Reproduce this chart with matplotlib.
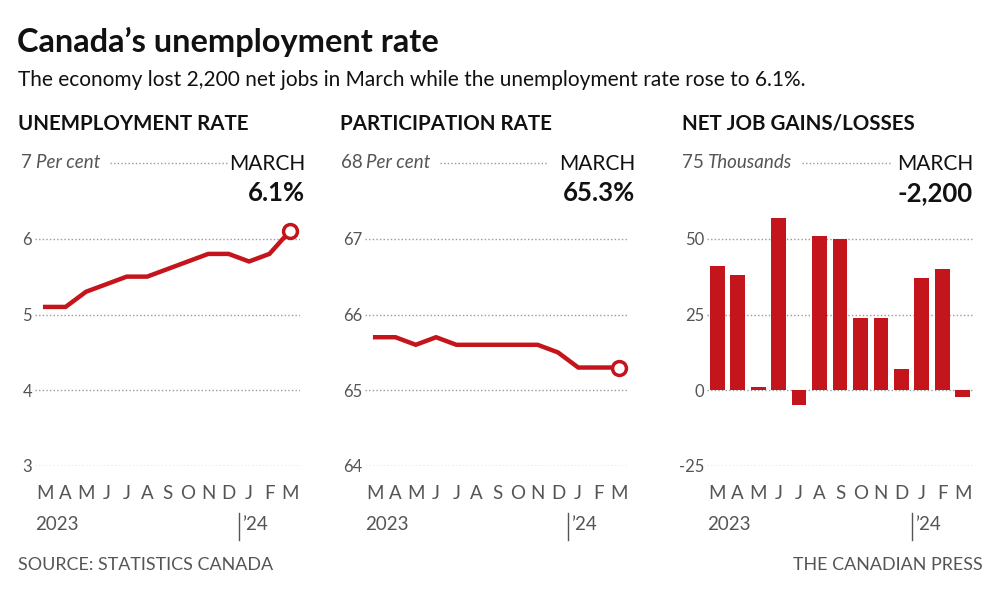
import matplotlib
matplotlib.use("Agg")
import matplotlib.pyplot as plt

plt.rcParams['font.family'] = ['Lato', 'DejaVu Sans']

# ---- data ----
months = ['M', 'A', 'M', 'J', 'J', 'A', 'S', 'O', 'N', 'D', 'J', 'F', 'M']
unemployment = [5.1, 5.1, 5.3, 5.4, 5.5, 5.5, 5.6, 5.7, 5.8, 5.8, 5.7, 5.8, 6.1]
participation = [65.7, 65.7, 65.6, 65.7, 65.6, 65.6, 65.6, 65.6, 65.6, 65.5, 65.3, 65.3, 65.3]
job_change = [41, 38, 1, 57, -5, 51, 50, 24, 24, 7, 37, 40, -2.2]   # thousands

unemp_ticks = [3, 4, 5, 6, 7]
part_ticks = [64, 65, 66, 67, 68]
jobs_ticks = [-25, 0, 25, 50, 75]

RED = '#c4151c'
GRAY = '#555555'
GRID = '#9a9a9a'
BLACK = '#111111'

W, H = 1000, 596
fig = plt.figure(figsize=(10, 5.96), dpi=100)


def fx(px):
    return px / W


def fy(py):
    return 1 - py / H


fig.text(fx(17), fy(42), "Canada\u2019s unemployment rate", fontsize=23.4, fontweight='bold',
         color=BLACK, va='center', ha='left')
fig.text(fx(18), fy(80), "The economy lost 2,200 net jobs in March while the unemployment rate rose to 6.1%.",
         fontsize=15, color=BLACK, va='center', ha='left')

panels = [
    dict(title="UNEMPLOYMENT RATE", left=35, right=300, ticks=unemp_ticks, unit="Per cent",
         data=unemployment, kind='line', value="6.1%", dot=(0.283, 0.724), mx=305, title_x=18),
    dict(title="PARTICIPATION RATE", left=365, right=629, ticks=part_ticks, unit="Per cent",
         data=participation, kind='line', value="65.3%", dot=(0.284, 0.693), mx=635, title_x=340),
    dict(title="NET JOB GAINS/LOSSES", left=707, right=973, ticks=jobs_ticks, unit="Thousands",
         data=job_change, kind='bar', value="-2,200", dot=(0.357, 0.695), mx=973, title_x=682),
]

top, bottom = 163, 466
x = list(range(len(months)))

for p in panels:
    ax = fig.add_axes([fx(p['left']), fy(bottom), fx(p['right'] - p['left']), (bottom - top) / H])
    ticks = p['ticks']
    ax.set_ylim(ticks[0], ticks[-1])
    ax.set_xlim(-0.5, 12.5)
    for sp in ax.spines.values():
        sp.set_visible(False)
    ax.set_facecolor('none')
    for t in ticks[:-1]:
        ax.axhline(t, color=GRID, lw=1, ls=(0, (1, 1.6)), zorder=0)
    ax.axhline(ticks[-1], xmin=p['dot'][0], xmax=p['dot'][1], color=GRID, lw=1,
               ls=(0, (1, 1.6)), zorder=0, clip_on=False)
    ax.set_yticks(ticks[:-1])
    ax.set_yticklabels([str(t) for t in ticks[:-1]], fontsize=12, color=GRAY)
    ax.tick_params(axis='y', length=0, pad=2)
    ax.set_xticks(x)
    ax.set_xticklabels(months, fontsize=13.5, color=GRAY)
    ax.tick_params(axis='x', length=0, pad=14)

    # top label: value + unit
    ax.text(-0.01, ticks[-1], str(ticks[-1]), transform=ax.get_yaxis_transform(),
            fontsize=13.5, color=GRAY, ha='right', va='center')
    ax.text(0.005, ticks[-1], p['unit'], transform=ax.get_yaxis_transform(),
            fontsize=13.5, color=GRAY, style='italic', ha='left', va='center')

    if p['kind'] == 'line':
        ax.plot(x, p['data'], color=RED, lw=3.2, solid_joinstyle='miter', zorder=3)
        ax.plot(x[-1], p['data'][-1], 'o', ms=10, mfc='white', mec=RED, mew=2.5, zorder=4,
                clip_on=False)
    else:
        ax.bar(x, p['data'], width=0.72, color=RED, zorder=3)

    fig.text(fx(p['title_x']), fy(124), p['title'], fontsize=14.8, fontweight='bold',
             color=BLACK, va='center', ha='left')
    fig.text(fx(p['mx']), fy(164), "MARCH", fontsize=15, color=BLACK, va='center', ha='right')
    fig.text(fx(p['mx']), fy(193), p['value'], fontsize=18.5, fontweight='bold', color=BLACK,
             va='center', ha='right')

    # year labels
    x0 = fx(p['left'])
    fig.text(x0, fy(525), "2023", fontsize=13.5, color=GRAY, va='center', ha='left')
    xj = p['left'] + (9.5 + 0.5) * (p['right'] - p['left']) / 13
    fig.add_artist(plt.Line2D([fx(xj), fx(xj)], [fy(513), fy(540)], color=GRAY, lw=1))
    fig.text(fx(xj + 3), fy(525), "\u201924", fontsize=13.5, color=GRAY, va='center', ha='left')

fig.text(fx(18), fy(565), "SOURCE: STATISTICS CANADA", fontsize=12.9, color=GRAY, va='center', ha='left')
fig.text(fx(983), fy(565), "THE CANADIAN PRESS", fontsize=12.9, color=GRAY, va='center', ha='right')

fig.savefig("out.png", dpi=100, facecolor='white')
